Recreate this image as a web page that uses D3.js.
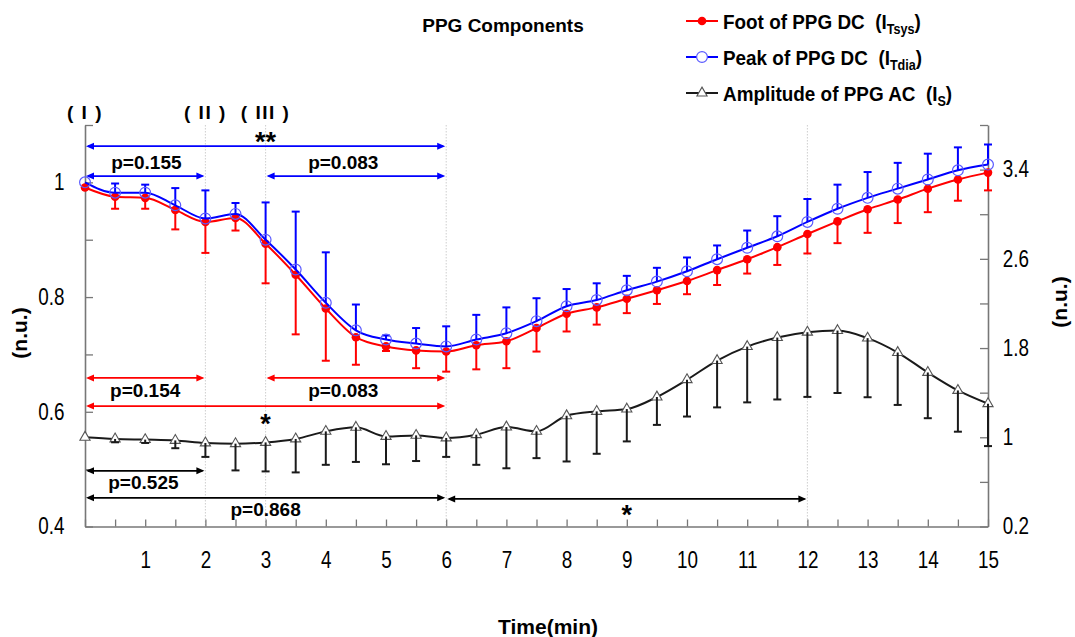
<!DOCTYPE html>
<html>
<head>
<meta charset="utf-8">
<script src="https://cdn.jsdelivr.net/npm/d3@7"></script>
<style>
  body { margin: 0; background: #fff; }
  svg { display: block; }
</style>
</head>
<body>
<svg id="chart" width="1075" height="637"></svg>
<script>
// ---- Data ---------------------------------------------------------------
const times = [0, 0.5, 1, 1.5, 2, 2.5, 3, 3.5, 4, 4.5, 5, 5.5, 6, 6.5, 7, 7.5,
               8, 8.5, 9, 9.5, 10, 10.5, 11, 11.5, 12, 12.5, 13, 13.5, 14, 14.5, 15];

// Foot of PPG DC (I_Tsys), left axis, mean and SD (drawn downward)
const footMean = [0.991, 0.975, 0.973, 0.952, 0.931, 0.938, 0.893, 0.839, 0.780, 0.730, 0.714,
                  0.707, 0.705, 0.716, 0.723, 0.746, 0.771, 0.782, 0.797, 0.812, 0.828,
                  0.847, 0.866, 0.887, 0.910, 0.932, 0.953, 0.970, 0.989, 1.005, 1.017];
const footSD   = [0, 0.021, 0.019, 0.034, 0.054, 0.022, 0.069, 0.104, 0.091, 0.048, 0.008,
                  0.031, 0.035, 0.042, 0.047, 0.041, 0.031, 0.030, 0.025, 0.024, 0.023,
                  0.026, 0.025, 0.031, 0.034, 0.038, 0.041, 0.041, 0.041, 0.037, 0.031];

// Peak of PPG DC (I_Tdia), left axis, mean and SD (drawn upward)
const peakMean = [1.000, 0.982, 0.982, 0.960, 0.937, 0.945, 0.900, 0.848, 0.790, 0.742, 0.726,
                  0.719, 0.714, 0.726, 0.737, 0.758, 0.784, 0.795, 0.812, 0.827, 0.845,
                  0.866, 0.886, 0.906, 0.931, 0.954, 0.973, 0.989, 1.005, 1.021, 1.031];
const peakSD   = [0, 0.016, 0.014, 0.030, 0.049, 0.019, 0.065, 0.101, 0.088, 0.045, 0.007,
                  0.027, 0.035, 0.043, 0.045, 0.040, 0.030, 0.029, 0.025, 0.024, 0.024,
                  0.024, 0.030, 0.035, 0.040, 0.042, 0.045, 0.045, 0.045, 0.040, 0.035];

// Amplitude of PPG AC (I_S), right axis, mean and SD (drawn downward)
const ampMean = [1.000, 0.985, 0.979, 0.972, 0.949, 0.943, 0.954, 0.985, 1.053, 1.089, 1.008,
                 1.017, 0.994, 1.023, 1.092, 1.053, 1.193, 1.232, 1.253, 1.361, 1.516,
                 1.688, 1.813, 1.894, 1.942, 1.957, 1.889, 1.760, 1.581, 1.420, 1.301];
const ampSD   = [0, 0.03, 0.03, 0.07, 0.125, 0.24, 0.26, 0.30, 0.30, 0.31, 0.25,
                 0.23, 0.17, 0.27, 0.37, 0.24, 0.41, 0.38, 0.29, 0.25, 0.33,
                 0.42, 0.50, 0.555, 0.58, 0.56, 0.53, 0.47, 0.41, 0.37, 0.38];

// Axis ticks and labels
const xTicks = times;
const xLabels = [1, 2, 3, 4, 5, 6, 7, 8, 9, 10, 11, 12, 13, 14, 15];
const leftTicks = [0.4, 0.5, 0.6, 0.7, 0.8, 0.9, 1.0, 1.1];
const leftLabels = [0.4, 0.6, 0.8, 1.0];
const rightTicks = [0.2, 0.6, 1.0, 1.4, 1.8, 2.2, 2.6, 3.0, 3.4, 3.8];
const rightLabels = [0.2, 1.0, 1.8, 2.6, 3.4];

// Phase markers and reference times
const phaseTimes = [0, 2, 3];
const phaseNames = ["( I )", "( II )", "( III )"];
const refLines = [2, 3, 6, 12];

// Statistical comparisons between time points
const compFrom  = [0, 0, 3, 0, 3, 0, 0, 0, 6];
const compTo    = [6, 2, 6, 2, 6, 6, 2, 6, 12];
const compText  = ["**", "p=0.155", "p=0.083", "p=0.154", "p=0.083", "*", "p=0.525", "p=0.868", "*"];
const compSeries = ["peak", "peak", "peak", "foot", "foot", "foot", "amp", "amp", "amp"];

// ---- Layout -------------------------------------------------------------
const FONT = "'Liberation Sans', Arial, Helvetica, sans-serif";
const plot = { left: 85, right: 988, top: 125, bottom: 526.5 };
const colors = { foot: "#ff0000", peak: "#0000ff", amp: "#000000" };
const narrow = 0.82;   // horizontal squeeze for axis numbers

// Arrow height (left-axis units), label x (minutes) and label baseline offset (px)
const compLevel = [1.063, 1.011, 1.011, 0.659, 0.659, 0.610, 0.497, 0.450, 0.448];
const compLabelX = [3, 1.02, 4.29, 1.0, 4.29, 3, 0.97, 3, 9];
const compLabelDy = [5, -7, -7, 19.5, 19.5, 27, 18, 18.5, 25];

const svg = d3.select("#chart").attr("font-family", FONT);

const x = d3.scaleLinear().domain([0, 15]).range([plot.left, plot.right]);
const yL = d3.scaleLinear().domain([0.4, 1.1]).range([plot.bottom, plot.top]);
const yR = d3.scaleLinear().domain([0.2, 3.8]).range([plot.bottom, plot.top]);

const near = (arr, d) => arr.some(v => Math.abs(v - d) < 1e-9);

// Reference vertical lines
svg.append("g").selectAll("line").data(refLines).join("line")
  .attr("x1", d => x(d)).attr("x2", d => x(d))
  .attr("y1", plot.top).attr("y2", plot.bottom)
  .attr("stroke", "#c8c8c8").attr("stroke-width", 0.9)
  .attr("stroke-dasharray", "1.5,1.5");

// Axes
function styleAxis(g) {
  g.select(".domain").attr("stroke", "#777").attr("stroke-width", 1.6);
  g.selectAll(".tick line").attr("stroke", "#777").attr("stroke-width", 1.3);
  g.selectAll(".tick text").attr("font-family", FONT).attr("font-size", 23).attr("fill", "#000")
    .attr("transform", `scale(${narrow},1)`);
}

svg.append("g")
  .attr("transform", `translate(0,${plot.bottom})`)
  .call(d3.axisBottom(x).tickValues(xTicks).tickSizeInner(-7).tickSizeOuter(0).tickPadding(25)
    .tickFormat(d => near(xLabels, d) ? d : ""))
  .call(styleAxis);

svg.append("g")
  .attr("transform", `translate(${plot.left},0)`)
  .call(d3.axisLeft(yL).tickValues(leftTicks).tickSizeInner(-8).tickSizeOuter(0).tickPadding(25)
    .tickFormat(d => near(leftLabels, d) ? String(+d.toFixed(1)) : ""))
  .call(styleAxis);

svg.append("g")
  .attr("transform", `translate(${plot.right},0)`)
  .call(d3.axisRight(yR).tickValues(rightTicks).tickSizeInner(-8).tickSizeOuter(0).tickPadding(18)
    .tickFormat(d => near(rightLabels, d) ? String(+d.toFixed(1)) : ""))
  .call(styleAxis);

// Axis titles and chart title
svg.append("text").attr("transform", "translate(27,333) rotate(-90)")
  .attr("text-anchor", "middle").attr("font-size", 21).attr("font-weight", "bold").text("(n.u.)");
svg.append("text").attr("transform", "translate(1067,302) rotate(-90)")
  .attr("text-anchor", "middle").attr("font-size", 21).attr("font-weight", "bold").text("(n.u.)");
svg.append("text").attr("x", 548).attr("y", 634)
  .attr("text-anchor", "middle").attr("font-size", 21).attr("font-weight", "bold").text("Time(min)");
svg.append("text").attr("x", 503).attr("y", 32)
  .attr("text-anchor", "middle").attr("font-size", 19).attr("font-weight", "bold").text("PPG Components");

// Phase labels
svg.append("g").selectAll("text").data(phaseTimes).join("text")
  .attr("x", d => x(d)).attr("y", 119)
  .attr("text-anchor", "middle").attr("font-size", 19).attr("font-weight", "bold")
  .attr("letter-spacing", 1.5)
  .style("white-space", "pre")
  .text((d, i) => phaseNames[i]);

// ---- Series ---------------------------------------------------------------
const capW = 4;

function drawSeries(mean, sd, scale, color, dir) {
  const g = svg.append("g");
  const pts = times.map((t, i) => ({ t, m: mean[i], s: sd[i] }));
  g.append("path").datum(pts)
    .attr("fill", "none").attr("stroke", color).attr("stroke-width", 2)
    .attr("d", d3.line().x(d => x(d.t)).y(d => scale(d.m)).curve(d3.curveMonotoneX));
  return { g, pts, bars: () => {
    const eb = g.append("g").attr("stroke", color).attr("stroke-width", 2);
    pts.filter(d => d.s > 0).forEach(d => {
      const y0 = scale(d.m), y1 = scale(d.m + dir * d.s);
      eb.append("line").attr("x1", x(d.t)).attr("x2", x(d.t)).attr("y1", y0).attr("y2", y1);
      eb.append("line").attr("x1", x(d.t) - capW).attr("x2", x(d.t) + capW).attr("y1", y1).attr("y2", y1);
    });
  }};
}

// Amplitude (right axis)
const amp = drawSeries(ampMean, ampSD, yR, "#1a1a1a", -1);
amp.g.append("g").selectAll("path").data(amp.pts).join("path")
  .attr("transform", d => `translate(${x(d.t)},${yR(d.m)})`)
  .attr("d", d3.symbol(d3.symbolTriangle, 45))
  .attr("fill", "#fff").attr("stroke", "#555").attr("stroke-width", 1.1);
amp.bars();

// Foot (left axis)
const foot = drawSeries(footMean, footSD, yL, colors.foot, -1);
foot.bars();
foot.g.append("g").selectAll("circle").data(foot.pts).join("circle")
  .attr("cx", d => x(d.t)).attr("cy", d => yL(d.m)).attr("r", 4.3)
  .attr("fill", colors.foot);

// Peak (left axis)
const peak = drawSeries(peakMean, peakSD, yL, colors.peak, 1);
peak.bars();
peak.g.append("g").selectAll("circle").data(peak.pts).join("circle")
  .attr("cx", d => x(d.t)).attr("cy", d => yL(d.m)).attr("r", 5.4)
  .attr("fill", "none").attr("stroke", "#5a5aff").attr("stroke-width", 1.2);

// ---- Comparison arrows ------------------------------------------------------
const head = 8, half = 3.5;
const ann = svg.append("g");
compFrom.forEach((f, i) => {
  const c = colors[compSeries[i]];
  const xa = x(f) + 1, xb = x(compTo[i]) - 1, y = yL(compLevel[i]);
  ann.append("line").attr("x1", xa + 2).attr("x2", xb - 2).attr("y1", y).attr("y2", y)
    .attr("stroke", c).attr("stroke-width", 1.8);
  ann.append("path").attr("fill", c)
    .attr("d", `M${xa},${y}L${xa + head},${y - half}L${xa + head},${y + half}Z`);
  ann.append("path").attr("fill", c)
    .attr("d", `M${xb},${y}L${xb - head},${y - half}L${xb - head},${y + half}Z`);
  const star = compText[i].startsWith("*");
  ann.append("text")
    .attr("x", x(compLabelX[i])).attr("y", y + compLabelDy[i])
    .attr("text-anchor", "middle").attr("font-weight", "bold")
    .attr("font-size", star ? 27 : 19).attr("fill", "#000")
    .text(compText[i]);
});

// ---- Legend -------------------------------------------------------------------
const legendRows = [
  { key: "foot", name: "Foot of PPG DC\u00a0\u00a0(I", sub: "Tsys" },
  { key: "peak", name: "Peak of PPG DC\u00a0\u00a0(I", sub: "Tdia" },
  { key: "amp",  name: "Amplitude of PPG AC\u00a0\u00a0(I", sub: "S" }
];
const legendY = [21, 57, 93];
const lg = svg.append("g");
legendRows.forEach((r, i) => {
  const y = legendY[i];
  const stroke = r.key === "amp" ? "#1a1a1a" : colors[r.key];
  lg.append("line").attr("x1", 686).attr("x2", 718).attr("y1", y).attr("y2", y)
    .attr("stroke", stroke).attr("stroke-width", 2);
  if (r.key === "foot") {
    lg.append("circle").attr("cx", 702).attr("cy", y).attr("r", 4.3).attr("fill", colors.foot);
  } else if (r.key === "peak") {
    lg.append("circle").attr("cx", 702).attr("cy", y).attr("r", 5.4)
      .attr("fill", "#fff").attr("stroke", "#5a5aff").attr("stroke-width", 1.2);
  } else {
    lg.append("path").attr("transform", `translate(702,${y})`)
      .attr("d", d3.symbol(d3.symbolTriangle, 45))
      .attr("fill", "#fff").attr("stroke", "#555").attr("stroke-width", 1.1);
  }
  const t = lg.append("text").attr("transform", `translate(723,${y + 8}) scale(0.9,1)`)
    .attr("font-size", 21).attr("font-weight", "bold");
  t.append("tspan").text(r.name);
  t.append("tspan").attr("font-size", 14).attr("dy", 5).text(r.sub);
  t.append("tspan").attr("dy", -5).text(")");
});
</script>
</body>
</html>
